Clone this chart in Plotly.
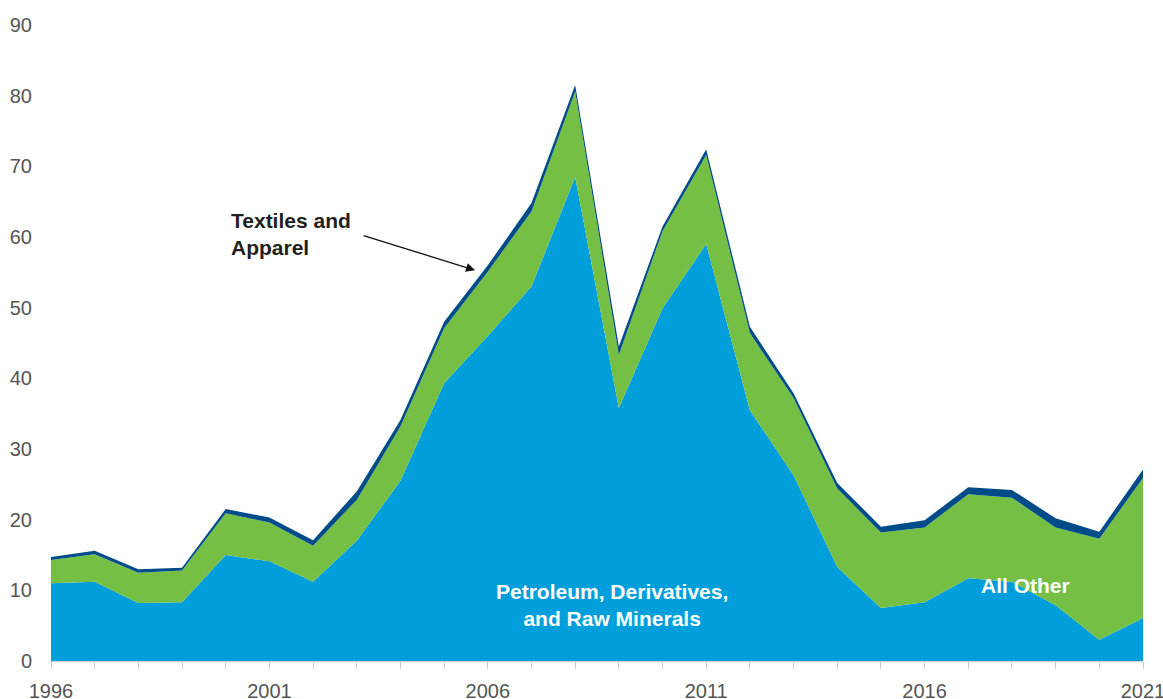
import plotly.graph_objects as go

# Annual values, stacked bottom to top
years = list(range(1996, 2022))
petroleum = [11.0, 11.2, 8.2, 8.3, 15.0, 14.1, 11.2, 17.0, 25.5, 39.3, 46.0, 53.0, 68.5,
             35.8, 49.9, 59.0, 35.5, 26.3, 13.3, 7.5, 8.3, 11.7, 11.2, 7.9, 3.0, 6.1]
all_other = [3.3, 3.9, 4.3, 4.5, 5.9, 5.5, 5.1, 5.8, 7.7, 7.8, 9.1, 10.6, 12.1,
             7.5, 10.9, 12.6, 10.9, 10.9, 11.1, 10.7, 10.6, 11.9, 11.9, 11.0, 14.3, 19.8]
textiles = [0.4, 0.5, 0.5, 0.4, 0.6, 0.7, 0.8, 1.2, 0.9, 0.9, 0.9, 1.2, 0.9,
            1.2, 0.7, 0.8, 0.9, 0.7, 0.8, 0.8, 1.0, 1.0, 1.1, 1.3, 1.0, 1.2]

label_years = [1996, 2001, 2006, 2011, 2016, 2021]
y_ticks = list(range(0, 100, 10))

series = [
    ("Petroleum, Derivatives, and Raw Minerals", petroleum, "#009fdb"),
    ("All Other", all_other, "#74bf44"),
    ("Textiles and Apparel", textiles, "#004c89"),
]

fig = go.Figure()
for name, vals, color in series:
    fig.add_trace(go.Scatter(
        x=years, y=vals, name=name, stackgroup="one", mode="lines",
        line=dict(width=0, color=color), fillcolor=color,
        hoverinfo="x+y+name",
    ))

font_family = "Liberation Sans, Arial, sans-serif"

fig.update_layout(
    width=1163, height=699,
    margin=dict(l=51, r=20, t=25, b=38),
    paper_bgcolor="white", plot_bgcolor="white",
    showlegend=False,
    font=dict(family=font_family, color="#555555", size=19),
    xaxis=dict(
        range=[1996, 2021], tickmode="array", tickvals=years,
        ticktext=[str(y) if y in label_years else "" for y in years],
        ticks="outside", ticklen=7, tickcolor="#cccccc", tickwidth=1,
        showline=True, linecolor="#d0d0d0", linewidth=1,
        showgrid=False, zeroline=False, automargin=False,
        ticklabeloverflow="allow", ticklabelstandoff=5,
        tickfont=dict(size=20, color="#555555"),
    ),
    yaxis=dict(
        range=[0, 90], tickmode="array", tickvals=y_ticks,
        showgrid=False, zeroline=False, showline=False, automargin=False,
        ticks="", ticklabelstandoff=18,
        tickfont=dict(size=20, color="#555555"),
    ),
)

# Series labels
fig.add_annotation(
    x=2000.07, y=64.3, xref="x", yref="y", xanchor="left", yanchor="top",
    text="<b>Textiles and<br>Apparel</b>", showarrow=False, align="left",
    font=dict(size=21, color="#231f20", family=font_family),
)
fig.add_annotation(
    x=2005.71, y=55.3, xref="x", yref="y", text="",
    showarrow=True, arrowhead=2, arrowsize=1.4, arrowwidth=1.3, arrowcolor="#111111",
    ax=-113, ay=-35, axref="pixel", ayref="pixel",
)
fig.add_annotation(
    x=2008.84, y=7.9, xref="x", yref="y", xanchor="center", yanchor="middle",
    text="<b>Petroleum, Derivatives,<br>and Raw Minerals</b>", showarrow=False, align="center",
    font=dict(size=21, color="white", family=font_family),
)
fig.add_annotation(
    x=2018.32, y=10.75, xref="x", yref="y", xanchor="center", yanchor="middle",
    text="<b>All Other</b>", showarrow=False,
    font=dict(size=21, color="white", family=font_family),
)

fig.write_html("out.html")
